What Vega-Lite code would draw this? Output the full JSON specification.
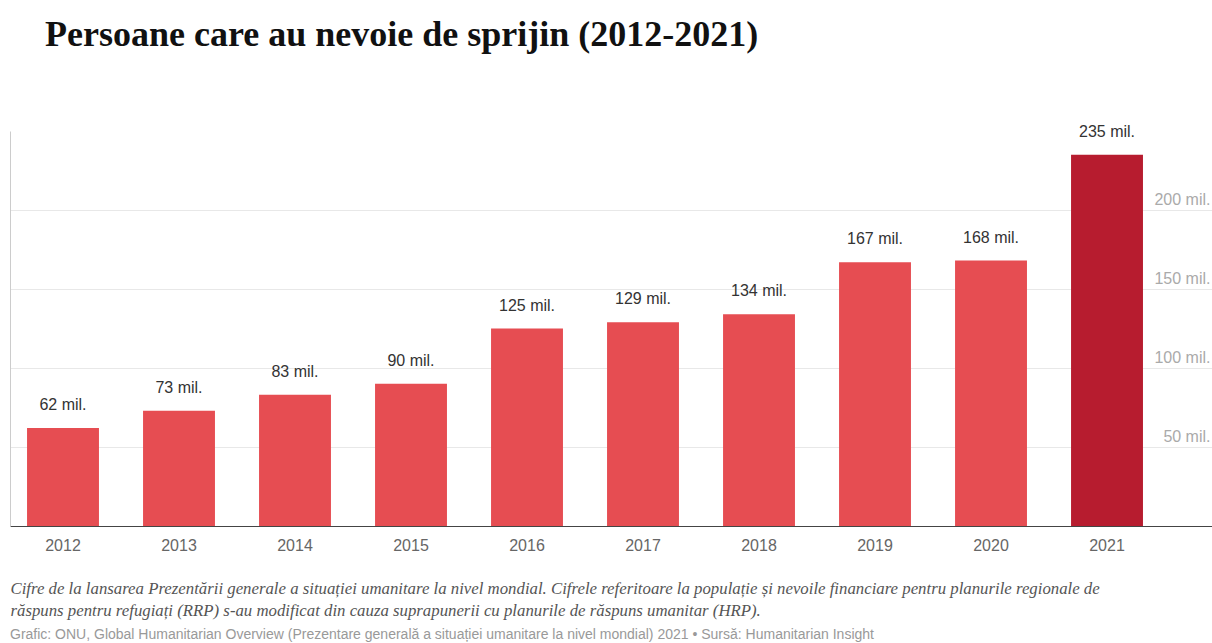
{
  "$schema": "https://vega.github.io/schema/vega-lite/v6.json",
  "padding": {"top": 16, "left": 10, "right": 0, "bottom": 0},
  "autosize": {"type": "pad"},
  "background": "white",
  "config": {"view": {"stroke": null}, "font": "Liberation Sans"},
  "title": {
    "text": "Grafic: ONU, Global Humanitarian Overview (Prezentare generală a situației umanitare la nivel mondial) 2021 • Sursă: Humanitarian Insight",
    "orient": "bottom", "anchor": "start", "frame": "group",
    "font": "Liberation Sans", "fontSize": 14, "fontWeight": "normal", "color": "#999",
    "offset": 20, "baseline": "alphabetic"
  },
  "vconcat": [
    {
      "title": {
        "text": "Persoane care au nevoie de sprijin (2012-2021)",
        "anchor": "start", "frame": "group",
        "font": "Liberation Serif", "fontSize": 36, "fontWeight": "bold", "color": "#111",
        "dx": 35, "offset": 42, "baseline": "alphabetic"
      },
      "width": 1202,
      "height": 395,
      "data": {
        "values": [
          {"year": "2012", "value": 62, "label": "62 mil."},
          {"year": "2013", "value": 73, "label": "73 mil."},
          {"year": "2014", "value": 83, "label": "83 mil."},
          {"year": "2015", "value": 90, "label": "90 mil."},
          {"year": "2016", "value": 125, "label": "125 mil."},
          {"year": "2017", "value": 129, "label": "129 mil."},
          {"year": "2018", "value": 134, "label": "134 mil."},
          {"year": "2019", "value": 167, "label": "167 mil."},
          {"year": "2020", "value": 168, "label": "168 mil."},
          {"year": "2021", "value": 235, "label": "235 mil."}
        ]
      },
      "encoding": {
        "x": {
          "field": "year", "type": "ordinal",
          "scale": {"paddingInner": 0.38, "paddingOuter": 0.371, "align": 0.198},
          "axis": {
            "title": [
              "Cifre de la lansarea Prezentării generale a situației umanitare la nivel mondial. Cifrele referitoare la populație și nevoile financiare pentru planurile regionale de",
              "răspuns pentru refugiați (RRP) s-au modificat din cauza suprapunerii cu planurile de răspuns umanitar (HRP)."
            ],
            "titleFont": "Liberation Serif", "titleFontStyle": "italic", "titleFontWeight": "normal",
            "titleFontSize": 16.8, "titleColor": "#555",
            "titleAnchor": "start", "titleAlign": "left", "titleX": 0, "titleY": 67,
            "titleBaseline": "alphabetic", "titleLineHeight": 22,
            "labelAngle": 0, "labelFontSize": 16, "labelColor": "#666", "labelPadding": 11,
            "ticks": false, "domainColor": "#444", "domainWidth": 1, "grid": false
          }
        }
      },
      "layer": [
        {
          "mark": {"type": "bar"},
          "encoding": {
            "y": {
              "field": "value", "type": "quantitative",
              "scale": {"domain": [0, 250], "nice": false},
              "axis": {
                "orient": "right", "values": [50, 100, 150, 200], "grid": true, "gridColor": "#e8e8e8",
                "ticks": false, "domain": true, "domainColor": "#ddd",
                "labelAlign": "right", "labelBaseline": "alphabetic", "labelPadding": -2, "labelOffset": -6,
                "labelFontSize": 16, "labelColor": "#aaa", "labelExpr": "datum.value + ' mil.'", "title": null
              }
            },
            "color": {"condition": {"test": "datum.year === '2021'", "value": "#b71c2f"}, "value": "#e64d52"}
          }
        },
        {
          "mark": {"type": "text", "dy": -18, "baseline": "alphabetic", "fontSize": 16, "color": "#333"},
          "encoding": {
            "y": {
              "field": "value", "type": "quantitative",
              "axis": {"orient": "left", "labels": false, "ticks": false, "grid": false, "domain": true, "domainColor": "#ccc", "title": null}
            },
            "text": {"field": "label"}
          }
        }
      ],
      "resolve": {"axis": {"y": "independent"}}
    }
  ]
}
